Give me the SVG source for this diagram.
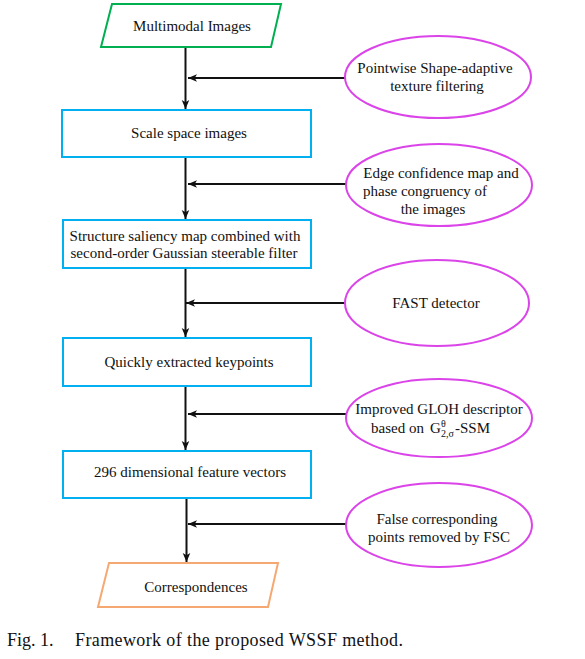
<svg xmlns="http://www.w3.org/2000/svg" width="585" height="659" viewBox="0 0 585 659" font-family="'Liberation Serif', 'DejaVu Serif', serif">
<style>
text{font-family:'Liberation Serif','DejaVu Serif',serif;font-size:15px;fill:#111}
.c{text-anchor:middle}
.box{fill:#fff;stroke:#00B0F0;stroke-width:2}
.ell{fill:#fff;stroke:#DA44E8;stroke-width:2}
.ln{stroke:#111;stroke-width:2;fill:none}
.cap{font-size:18px}
</style>
<defs>
<marker id="ah" viewBox="0 0 10 10" refX="10" refY="5" markerWidth="9" markerHeight="9" markerUnits="userSpaceOnUse" orient="auto">
<path d="M10,5 L0,0.8 L2.5,5 L0,9.2 Z" fill="#111"/>
</marker>
</defs>
<rect width="585" height="659" fill="#fff"/>
<g id="connectors">
<line class="ln" x1="185.5" y1="47" x2="185.5" y2="109" marker-end="url(#ah)"/>
<line class="ln" x1="185.5" y1="157" x2="185.5" y2="219" marker-end="url(#ah)"/>
<line class="ln" x1="185.5" y1="268" x2="185.5" y2="337" marker-end="url(#ah)"/>
<line class="ln" x1="185.5" y1="386" x2="185.5" y2="450" marker-end="url(#ah)"/>
<line class="ln" x1="186.5" y1="498" x2="186.5" y2="562" marker-end="url(#ah)"/>
<line class="ln" x1="345" y1="78" x2="188" y2="78" marker-end="url(#ah)"/>
<line class="ln" x1="346" y1="184" x2="188" y2="184" marker-end="url(#ah)"/>
<line class="ln" x1="345" y1="303" x2="186" y2="303" marker-end="url(#ah)"/>
<line class="ln" x1="346" y1="414" x2="188" y2="414" marker-end="url(#ah)"/>
<line class="ln" x1="346" y1="524" x2="188" y2="524" marker-end="url(#ah)"/>
</g>
<g id="multimodal">
<polygon points="112,4 281,4 271,47 101,47" fill="#fff" stroke="#00B050" stroke-width="2"/>
<text class="c" x="192" y="31">Multimodal Images</text>
</g>
<g id="scale">
<rect class="box" x="62" y="110" width="249" height="47"/>
<text class="c" x="189" y="138">Scale space images</text>
</g>
<g id="saliency">
<rect class="box" x="63" y="220" width="248" height="48"/>
<text class="c" x="185" y="241">Structure saliency map combined with</text>
<text class="c" x="184" y="258">second-order Gaussian steerable filter</text>
</g>
<g id="keypoints">
<rect class="box" x="63" y="338" width="248" height="48"/>
<text class="c" x="189" y="367">Quickly extracted keypoints</text>
</g>
<g id="vectors">
<rect class="box" x="63" y="451" width="248" height="47"/>
<text class="c" x="190" y="477">296 dimensional feature vectors</text>
</g>
<g id="correspondences">
<polygon points="109,563 278,563 268,607 98,607" fill="#fff" stroke="#F6A872" stroke-width="2"/>
<text class="c" x="196" y="592">Correspondences</text>
</g>
<g id="pointwise">
<ellipse class="ell" cx="438" cy="77" rx="93" ry="41"/>
<text class="c" x="435" y="73">Pointwise Shape-adaptive</text>
<text class="c" x="437" y="91">texture filtering</text>
</g>
<g id="edge">
<ellipse class="ell" cx="439" cy="185" rx="93" ry="41"/>
<text class="c" x="441" y="178">Edge confidence map and</text>
<text x="363" y="196">phase congruency of</text>
<text class="c" x="433" y="214">the images</text>
</g>
<g id="fast">
<ellipse class="ell" cx="437" cy="303" rx="92" ry="43"/>
<text class="c" x="436" y="308">FAST detector</text>
</g>
<g id="gloh">
<ellipse class="ell" cx="439" cy="418" rx="93" ry="39"/>
<text class="c" x="439" y="414">Improved GLOH descriptor</text>
<text x="371" y="433">based on</text>
<text x="430" y="433">G</text>
<text x="441" y="427" style="font-size:10px">θ</text>
<text x="441" y="437" style="font-size:10px">2,σ</text>
<text x="455" y="433">-SSM</text>
</g>
<g id="fsc">
<ellipse class="ell" cx="439" cy="525" rx="93" ry="42"/>
<text class="c" x="437" y="524">False corresponding</text>
<text class="c" x="439" y="542">points removed by FSC</text>
</g>
<g id="caption">
<text class="cap" x="7" y="646">Fig. 1.</text>
<text class="cap" x="75" y="646" textLength="328" lengthAdjust="spacing">Framework of the proposed WSSF method.</text>
</g>
</svg>
